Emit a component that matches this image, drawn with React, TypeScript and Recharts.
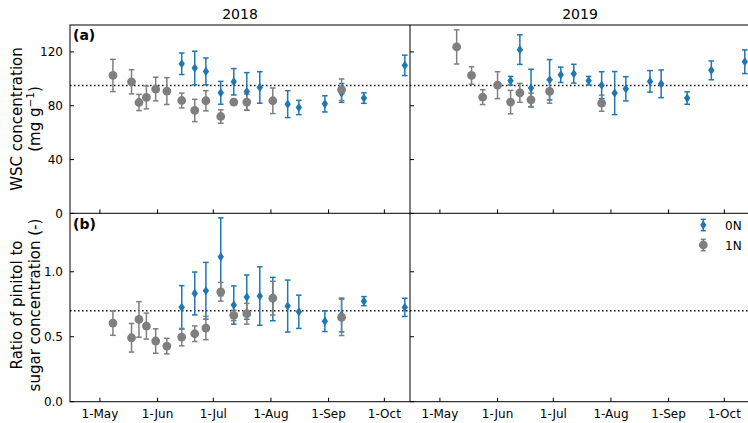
import React from 'react';
import { ScatterChart, Scatter, XAxis, YAxis, ErrorBar, ReferenceLine } from 'recharts';

// ---------- categories / ticks ----------
const monthTicks = [121, 152, 182, 213, 244, 274]; // day of year
const monthLabels = ['1-May', '1-Jun', '1-Jul', '1-Aug', '1-Sep', '1-Oct'];
const wscTicks = [0, 40, 80, 120];
const ratioTicks = [0, 0.5, 1.0];
const years = ['2018', '2019'];
const seriesNames = ['0N', '1N'];
const wscThreshold = 95;
const ratioThreshold = 0.7;

// ---------- 2018 WSC (mg g-1) ----------
const wsc2018_0N_day = [165, 172, 178, 186, 193, 200, 207, 222, 228, 242, 251, 263, 285];
const wsc2018_0N_val = [111.2, 108.0, 105.5, 89.6, 97.8, 90.6, 93.6, 81.2, 78.7, 81.4, 89.5, 85.7, 110.0];
const wsc2018_0N_err = [8, 12.5, 10, 8.5, 9.8, 14, 11.7, 10, 5.3, 6, 7, 3.9, 7.6];

const wsc2018_1N_day = [128, 138, 142, 146, 151, 157, 165, 172, 178, 186, 193, 200, 214, 251];
const wsc2018_1N_val = [102.5, 97.8, 82.4, 86.2, 92.4, 90.9, 83.9, 76.5, 83.7, 72.0, 82.7, 82.7, 83.7, 91.9];
const wsc2018_1N_err = [12, 9, 6, 8.5, 8.8, 10, 5.5, 8.3, 7.5, 5, 2, 6, 9.5, 8];

// ---------- 2019 WSC (mg g-1) ----------
const wsc2019_0N_day = [159, 164, 170, 180, 186, 193, 201, 208, 215, 221, 234, 240, 254, 267, 285];
const wsc2019_0N_val = [98.6, 121.7, 93.1, 99.3, 103.0, 103.8, 98.6, 95.3, 89.4, 92.6, 98.1, 96.3, 85.7, 106.3, 112.7];
const wsc2019_0N_err = [3.2, 11, 14, 15, 5.7, 7, 3.2, 10, 16, 9, 8, 10.3, 4.6, 7, 8.8];

const wsc2019_1N_day = [130, 138, 144, 152, 159, 164, 170, 180, 208];
const wsc2019_1N_val = [123.7, 102.5, 86.4, 95.3, 82.7, 89.6, 84.4, 90.6, 81.9];
const wsc2019_1N_err = [12.7, 6.5, 5.5, 10, 8.7, 7, 5, 8.7, 6];

// ---------- 2018 pinitol : sugar ratio ----------
const ratio2018_0N_day = [165, 172, 178, 186, 193, 200, 207, 214, 222, 228, 242, 251, 263, 285];
const ratio2018_0N_val = [0.726, 0.833, 0.854, 1.115, 0.744, 0.805, 0.813, 0.79, 0.736, 0.692, 0.62, 0.667, 0.774, 0.726];
const ratio2018_0N_err = [0.167, 0.165, 0.218, 0.3, 0.147, 0.17, 0.225, 0.167, 0.2, 0.128, 0.08, 0.13, 0.035, 0.07];

const ratio2018_1N_day = [128, 138, 142, 146, 151, 157, 165, 172, 178, 186, 193, 200, 214, 251];
const ratio2018_1N_val = [0.605, 0.492, 0.633, 0.582, 0.467, 0.428, 0.497, 0.523, 0.567, 0.846, 0.664, 0.677, 0.797, 0.649];
const ratio2018_1N_err = [0.094, 0.11, 0.137, 0.1, 0.094, 0.06, 0.067, 0.06, 0.09, 0.072, 0.04, 0.08, 0.13, 0.14];

// ---------- 2019 ratio: no data ----------
const ratio2019_0N_day: number[] = [];
const ratio2019_0N_val: number[] = [];
const ratio2019_0N_err: number[] = [];
const ratio2019_1N_day: number[] = [];
const ratio2019_1N_val: number[] = [];
const ratio2019_1N_err: number[] = [];

const zip = (d: number[], v: number[], e: number[]) => d.map((x, i) => ({ x, y: v[i], e: e[i] }));

const BLUE = '#1f77b4';
const GRAY = '#7f7f7f';
const FONT = 'DejaVu Sans, sans-serif';

const W = 752;
const H = 423;
const X_DOMAIN: [number, number] = [104.9, 287.8];
const PANEL_X = [70, 410];
const PANEL_W = 340;
const PANEL_Y = [25, 213.3];
const PANEL_H = 188.4;

const Diamond = (p: any) => {
  const { cx, cy } = p;
  if (cx == null || cy == null) return <g />;
  return (
    <polygon
      points={`${cx},${cy - 4.6} ${cx + 3.2},${cy} ${cx},${cy + 4.6} ${cx - 3.2},${cy}`}
      fill={BLUE}
    />
  );
};
const Dot = (p: any) => {
  const { cx, cy } = p;
  if (cx == null || cy == null) return <g />;
  return <circle cx={cx} cy={cy} r={4.4} fill={GRAY} />;
};

const XTick = (p: any) => {
  const { x, y, payload, show } = p;
  const i = monthTicks.indexOf(payload.value);
  return (
    <g>
      <line x1={x} x2={x} y1={y} y2={y - 4} stroke="#000" strokeWidth={1} />
      {show && (
        <text x={x} y={y + 16} textAnchor="middle" fontSize={12} fontFamily={FONT} fill="#000">
          {monthLabels[i]}
        </text>
      )}
    </g>
  );
};

const YTick = (p: any) => {
  const { x, y, payload, show, fmt } = p;
  return (
    <g>
      <line x1={x} x2={x + 4} y1={y} y2={y} stroke="#000" strokeWidth={1} />
      {show && (
        <text x={x - 7} y={y + 4.4} textAnchor="end" fontSize={12} fontFamily={FONT} fill="#000">
          {fmt(payload.value)}
        </text>
      )}
    </g>
  );
};

type PanelProps = {
  col: number;
  row: number;
  d0: any[];
  d1: any[];
  yDomain: [number, number];
  yTicks: number[];
  fmt: (v: number) => string;
  refY: number;
};

const AX = 1; // axis thickness reserved (must be > 0 for ticks to render)

const Panel = ({ col, row, d0, d1, yDomain, yTicks, fmt, refY }: PanelProps) => {
  const left = PANEL_X[col];
  const top = PANEL_Y[row];
  const margin = { left: left - AX, top, right: W - left - PANEL_W, bottom: H - top - PANEL_H - AX };
  const showX = row === 1;
  const showY = col === 0;
  return (
    <div style={{ position: 'absolute', left: 0, top: 0 }}>
      <ScatterChart width={W} height={H} margin={margin}>
        <XAxis
          type="number"
          dataKey="x"
          domain={X_DOMAIN}
          allowDataOverflow
          ticks={monthTicks}
          interval={0}
          height={AX}
          tickSize={0}
          tickMargin={0}
          axisLine={false}
          tickLine={false}
          tick={(tp: any) => <XTick {...tp} show={showX} />}
        />
        <YAxis
          type="number"
          dataKey="y"
          domain={yDomain}
          allowDataOverflow
          ticks={yTicks}
          interval={0}
          width={AX}
          tickSize={0}
          tickMargin={0}
          axisLine={false}
          tickLine={false}
          tick={(tp: any) => <YTick {...tp} show={showY} fmt={fmt} />}
        />
        <ReferenceLine y={refY} stroke="#000" strokeWidth={1.5} strokeDasharray="1.5 2.5" />
        <Scatter name={seriesNames[0]} data={d0} fill={BLUE} shape={Diamond} isAnimationActive={false}>
          <ErrorBar dataKey="e" direction="y" width={2.8} stroke={BLUE} strokeWidth={1.5} isAnimationActive={false} />
        </Scatter>
        <Scatter name={seriesNames[1]} data={d1} fill={GRAY} shape={Dot} isAnimationActive={false}>
          <ErrorBar dataKey="e" direction="y" width={2.8} stroke={GRAY} strokeWidth={1.5} isAnimationActive={false} />
        </Scatter>
      </ScatterChart>
    </div>
  );
};

const fmtWsc = (v: number) => String(v);
const fmtRatio = (v: number) => v.toFixed(1);

const Overlay = () => {
  const L = PANEL_X[0];
  const R = PANEL_X[1] + PANEL_W;
  const T = PANEL_Y[0];
  const M = PANEL_Y[1];
  const B = PANEL_Y[1] + PANEL_H;
  const lx = 703.3;
  return (
    <svg width={W} height={H} style={{ position: 'absolute', left: 0, top: 0 }}>
      <g stroke="#000" strokeWidth={1} fill="none">
        <rect x={L} y={T} width={R - L} height={B - T} />
        <line x1={PANEL_X[1]} x2={PANEL_X[1]} y1={T} y2={B} />
        <line x1={L} x2={R} y1={M} y2={M} />
      </g>
      <g fontFamily={FONT} fill="#000">
        <text x={240} y={18.5} fontSize={14} textAnchor="middle">{years[0]}</text>
        <text x={580} y={18.5} fontSize={14} textAnchor="middle">{years[1]}</text>
        <text x={73} y={40} fontSize={14} fontWeight="bold">(a)</text>
        <text x={73} y={228.5} fontSize={14} fontWeight="bold">(b)</text>
        <text x={22} y={119} transform="rotate(-90 22 119)" fontSize={15} textAnchor="middle">WSC concentration</text>
        <text x={39.5} y={119} transform="rotate(-90 39.5 119)" fontSize={15} textAnchor="middle">
          (mg g<tspan dy={-5.5} fontSize={10.5}>−1</tspan><tspan dy={5.5}>)</tspan>
        </text>
        <text x={22} y={305} transform="rotate(-90 22 305)" fontSize={15} textAnchor="middle">Ratio of pinitol to</text>
        <text x={39.5} y={305} transform="rotate(-90 39.5 305)" fontSize={15} textAnchor="middle">sugar concentration (-)</text>
      </g>
      {/* legend */}
      <g>
        <line x1={lx} x2={lx} y1={219.3} y2={230.7} stroke={BLUE} strokeWidth={1.5} />
        <line x1={lx - 2.5} x2={lx + 2.5} y1={219.3} y2={219.3} stroke={BLUE} strokeWidth={1.5} />
        <line x1={lx - 2.5} x2={lx + 2.5} y1={230.7} y2={230.7} stroke={BLUE} strokeWidth={1.5} />
        <Diamond cx={lx} cy={225} />
        <line x1={lx} x2={lx} y1={239.3} y2={250.7} stroke={GRAY} strokeWidth={1.5} />
        <line x1={lx - 2.5} x2={lx + 2.5} y1={239.3} y2={239.3} stroke={GRAY} strokeWidth={1.5} />
        <line x1={lx - 2.5} x2={lx + 2.5} y1={250.7} y2={250.7} stroke={GRAY} strokeWidth={1.5} />
        <Dot cx={lx} cy={245} />
        <text x={725} y={229.5} fontSize={12} fontFamily={FONT}>{seriesNames[0]}</text>
        <text x={725} y={249.5} fontSize={12} fontFamily={FONT}>{seriesNames[1]}</text>
      </g>
    </svg>
  );
};

export default function App() {
  return (
    <div style={{ position: 'absolute', left: 0, top: 0, width: 748, height: 423, overflow: 'hidden', background: '#fff' }}>
      <Panel col={0} row={0} d0={zip(wsc2018_0N_day, wsc2018_0N_val, wsc2018_0N_err)} d1={zip(wsc2018_1N_day, wsc2018_1N_val, wsc2018_1N_err)} yDomain={[0, 140]} yTicks={wscTicks} fmt={fmtWsc} refY={wscThreshold} />
      <Panel col={1} row={0} d0={zip(wsc2019_0N_day, wsc2019_0N_val, wsc2019_0N_err)} d1={zip(wsc2019_1N_day, wsc2019_1N_val, wsc2019_1N_err)} yDomain={[0, 140]} yTicks={wscTicks} fmt={fmtWsc} refY={wscThreshold} />
      <Panel col={0} row={1} d0={zip(ratio2018_0N_day, ratio2018_0N_val, ratio2018_0N_err)} d1={zip(ratio2018_1N_day, ratio2018_1N_val, ratio2018_1N_err)} yDomain={[0, 1.45]} yTicks={ratioTicks} fmt={fmtRatio} refY={ratioThreshold} />
      <Panel col={1} row={1} d0={zip(ratio2019_0N_day, ratio2019_0N_val, ratio2019_0N_err)} d1={zip(ratio2019_1N_day, ratio2019_1N_val, ratio2019_1N_err)} yDomain={[0, 1.45]} yTicks={ratioTicks} fmt={fmtRatio} refY={ratioThreshold} />
      <Overlay />
    </div>
  );
}
